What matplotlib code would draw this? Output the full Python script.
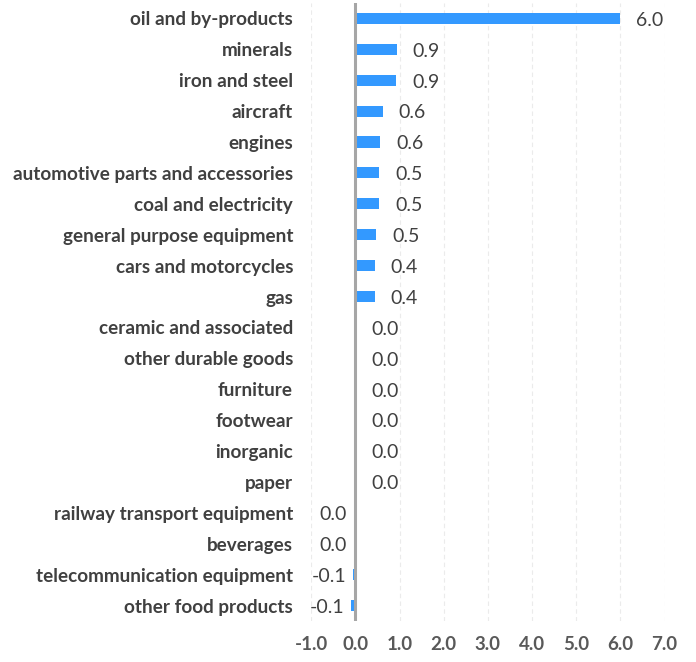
import matplotlib
matplotlib.use("Agg")
import numpy as np
import matplotlib.pyplot as plt

categories = ["oil and by-products", "minerals", "iron and steel", "aircraft", "engines",
              "automotive parts and accessories", "coal and electricity",
              "general purpose equipment", "cars and motorcycles", "gas",
              "ceramic and associated", "other durable goods", "furniture", "footwear",
              "inorganic", "paper", "railway transport equipment", "beverages",
              "telecommunication equipment", "other food products"]
values = [6.0, 0.94, 0.92, 0.62, 0.56, 0.54, 0.54, 0.47, 0.44, 0.44,
          0.01, 0.01, 0.01, 0.005, 0.005, 0.004, -0.01, -0.01, -0.06, -0.09]
xticks = [-1, 0, 1, 2, 3, 4, 5, 6, 7]

plt.rcParams['font.family'] = ['Lato', 'DejaVu Sans']

fig = plt.figure(figsize=(6.96, 6.62), dpi=100)
ax = fig.add_axes([0.447, 0.062, 0.508, 0.9335])

y = np.arange(len(categories))
ax.barh(y, values, height=0.36, color="#3399FF", zorder=3)
ax.set_ylim(len(categories) - 0.5, -0.5)
ax.set_xlim(-1, 7)

ax.set_xticks(xticks)
ax.set_xticklabels(["%.1f" % t for t in xticks], fontsize=13.5, fontweight="bold", color="#595959")
ax.set_yticks(y)
ax.set_yticklabels(categories, fontsize=13.6, fontweight="bold", color="#404040")
ax.tick_params(axis="y", length=0, pad=13)
ax.tick_params(axis="x", length=0, pad=11)

for s in ax.spines.values():
    s.set_visible(False)
ax.grid(axis="x", color="#EBEBEB", linestyle=(0, (4, 3)), linewidth=0.8, zorder=0)
ax.axvline(0, color="#A6A6A6", linewidth=2.2, zorder=4)

for yi, v in zip(y, values):
    if v >= 0:
        ax.text(v + 0.36, yi + 0.06, "%.1f" % v, va="center", ha="left", fontsize=14, color="#404040")
    else:
        ax.text(min(v, -0.05) - 0.15, yi + 0.06, "%.1f" % v if round(v, 1) != 0 else "0.0",
                va="center", ha="right", fontsize=14, color="#404040")

fig.savefig("out.png", dpi=100)
